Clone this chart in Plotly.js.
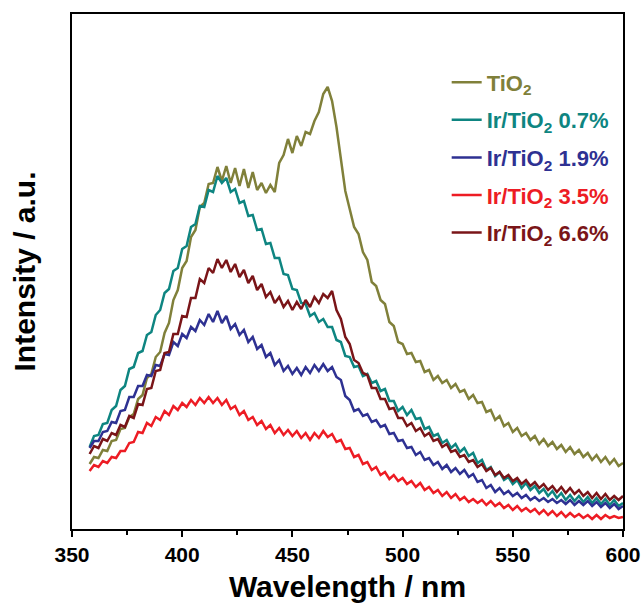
<!DOCTYPE html>
<html>
<head>
<meta charset="utf-8">
<script src="https://cdn.plot.ly/plotly-3.0.1.min.js"></script>
<style>html,body{margin:0;padding:0;background:#fff;}#chart{width:642px;height:604px;}</style>
</head>
<body>
<div id="chart"></div>
<script>
// Wavelength (nm)
const wavelength = [358,360,362,364,366,368,370,372,374,376,378,380,382,384,386,388,390,392,394,396,398,400,402,404,406,408,410,412,414,416,418,420,422,424,426,428,430,432,434,436,438,440,442,444,446,448,450,452,454,456,458,460,462,464,466,468,470,472,474,476,478,480,482,484,486,488,490,492,494,496,498,500,502,504,506,508,510,512,514,516,518,520,522,524,526,528,530,532,534,536,538,540,542,544,546,548,550,552,554,556,558,560,562,564,566,568,570,572,574,576,578,580,582,584,586,588,590,592,594,596,598,600];

// Intensity (a.u.)
const tio2 = [65,72,71,79,78,88,89,100,101,112,115,130,134,151,155,172,177,196,206,229,239,261,268,292,299,322,326,345,346,362,348,363,346,361,343,360,341,357,339,346,336,344,337,366,374,390,376,393,383,397,395,408,417,435,442,428,402,372,338,320,302,295,277,269,247,243,229,225,207,203,187,185,175,176,167,168,157,159,149,153,146,149,141,145,137,139,130,134,126,127,117,119,109,113,103,106,97,101,93,96,89,93,85,90,83,87,80,84,77,82,75,79,72,76,69,74,67,72,65,70,63,66];
const ir07 = [82,93,94,105,106,119,123,139,143,160,162,176,178,194,197,214,219,236,240,258,261,280,283,302,305,323,322,339,337,353,346,351,337,340,326,328,313,314,299,300,285,286,271,271,255,254,240,239,226,225,213,216,207,210,202,202,189,187,173,172,162,163,153,155,146,148,138,140,128,128,118,122,114,119,110,111,100,102,93,95,86,89,81,85,77,81,73,76,66,69,59,62,53,57,49,52,45,49,41,46,39,43,36,40,33,38,31,36,29,34,28,33,27,32,26,31,25,30,24,29,23,26];
const ir19 = [81,88,88,97,98,107,106,118,119,132,132,143,143,154,153,164,163,175,174,187,183,195,191,202,198,209,204,215,207,218,206,213,200,205,194,199,187,192,180,184,172,176,164,169,158,163,155,161,154,162,156,164,158,165,158,162,152,149,133,129,118,120,113,115,107,109,102,104,95,96,88,89,81,82,74,77,69,71,64,67,60,64,57,61,55,59,52,55,47,49,41,44,37,41,35,38,33,36,31,34,29,32,28,31,27,30,26,29,25,29,24,28,24,28,23,27,22,26,21,25,20,23];
const ir35 = [58,64,62,68,66,72,71,78,78,86,87,97,96,106,103,112,109,118,114,123,119,126,122,129,124,131,126,132,126,131,124,129,120,123,114,118,109,112,104,108,100,104,96,101,94,99,93,98,91,96,89,96,91,98,92,95,87,89,80,81,72,74,65,67,59,62,54,57,50,54,48,51,45,48,42,46,39,42,36,39,33,37,31,35,29,32,27,30,26,29,24,28,23,26,21,24,19,23,18,21,17,20,15,19,14,18,13,17,12,16,12,15,11,14,10,14,10,14,11,13,11,12];
const ir66 = [75,83,81,90,88,96,94,104,102,113,111,125,124,140,141,158,159,176,177,195,195,213,212,231,231,250,246,261,256,270,261,269,257,265,252,259,246,253,239,245,232,237,226,232,222,228,219,227,220,229,222,232,226,235,231,238,219,210,192,185,169,166,156,154,141,141,130,130,120,121,111,111,103,106,98,101,93,96,88,90,82,85,77,79,72,74,67,69,62,65,58,61,54,57,51,54,48,51,45,49,43,47,41,45,39,43,37,42,36,41,35,39,33,37,31,36,30,35,29,33,29,33];

const seriesNames = ['TiO<sub>2</sub>', 'Ir/TiO<sub>2</sub> 0.7%', 'Ir/TiO<sub>2</sub> 1.9%', 'Ir/TiO<sub>2</sub> 3.5%', 'Ir/TiO<sub>2</sub> 6.6%'];
const seriesColors = ['#80803a', '#0e8581', '#2e3192', '#ed1c24', '#7a1518'];
const seriesValues = [tio2, ir07, ir19, ir35, ir66];

const xTickVals = [350, 400, 450, 500, 550, 600];
const xTickText = ['350', '400', '450', '500', '550', '600'];

const traces = seriesValues.map((vals, i) => ({
  type: 'scatter',
  mode: 'lines',
  x: wavelength,
  y: vals,
  name: '<span style="color:' + seriesColors[i] + '">' + seriesNames[i] + '</span>',
  legendgroup: 'g' + i,
  line: {color: seriesColors[i], width: 2.5},
  hoverinfo: 'skip'
}));

const layout = {
  width: 642,
  height: 604,
  margin: {l: 72, r: 19, t: 14, b: 75},
  paper_bgcolor: '#ffffff',
  plot_bgcolor: '#ffffff',
  font: {family: 'Liberation Sans, Arial, sans-serif', color: '#000'},
  showlegend: true,
  legend: {
    x: 0.68, y: 0.908, xanchor: 'left', yanchor: 'top',
    bgcolor: 'rgba(0,0,0,0)', borderwidth: 0,
    font: {size: 22, weight: 'bold', family: 'Liberation Sans, Arial, sans-serif'},
    tracegroupgap: 6
  },
  xaxis: {
    range: [350, 600],
    tickvals: xTickVals,
    ticktext: xTickText,
    ticks: 'outside',
    ticklen: 6,
    tickwidth: 2,
    tickcolor: '#000',
    minor: {dtick: 25, ticks: 'outside', ticklen: 4, tickwidth: 2, tickcolor: '#000'},
    showline: true,
    linecolor: '#000',
    linewidth: 2,
    mirror: true,
    showgrid: false,
    zeroline: false,
    tickfont: {size: 21, weight: 'bold'},
    title: {text: 'Wavelength / nm', font: {size: 30, weight: 'bold'}, standoff: 11}
  },
  yaxis: {
    range: [0, 515],
    showticklabels: false,
    ticks: '',
    showline: true,
    linecolor: '#000',
    linewidth: 2,
    mirror: true,
    showgrid: false,
    zeroline: false,
    title: {text: 'Intensity / a.u.', font: {size: 30, weight: 'bold'}, standoff: 26}
  }
};

Plotly.newPlot('chart', traces, layout, {displayModeBar: false, staticPlot: true});
</script>
</body>
</html>
